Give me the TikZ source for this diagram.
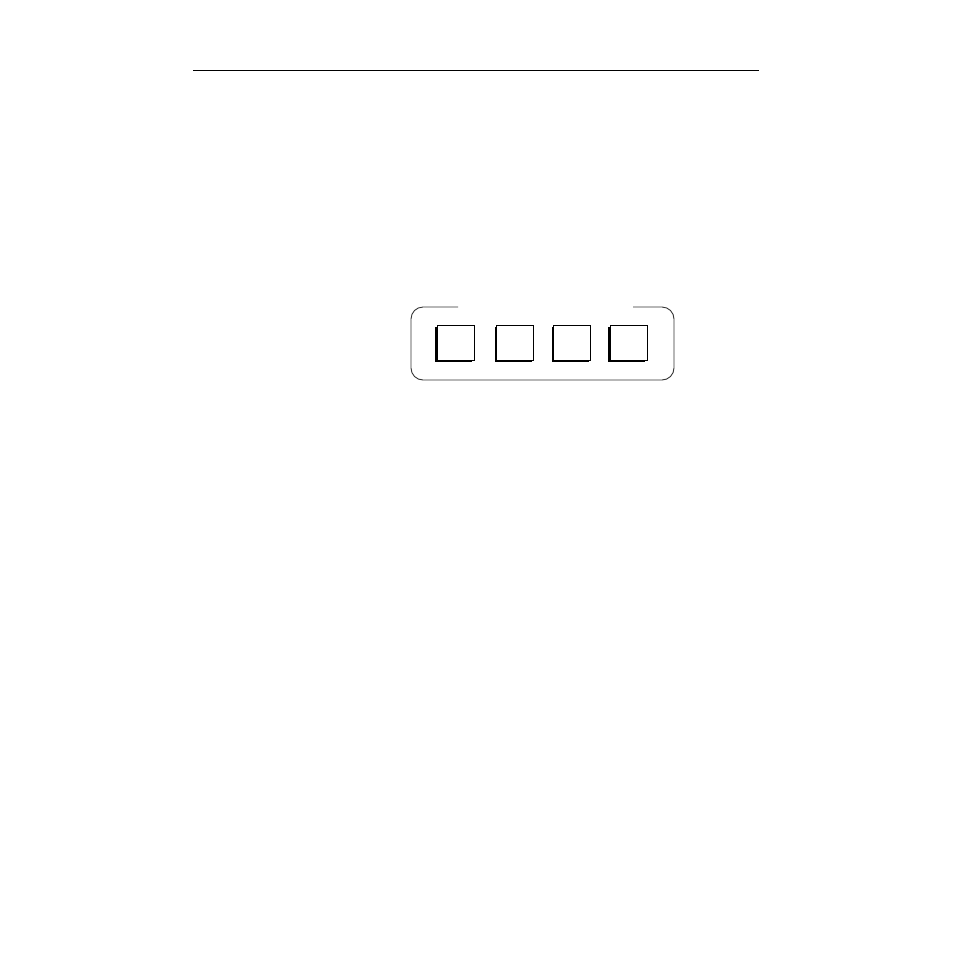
\documentclass[tikz,border=0pt]{standalone}
\begin{document}
\begin{tikzpicture}[x=1pt,y=-1pt,
  keybox/.style={draw=black,fill=white,line width=0.9pt,minimum width=37pt,minimum height=35pt,inner sep=0pt,
    path picture={}},
  keyshadow/.style={fill=black,draw=none,minimum width=37pt,minimum height=35pt,inner sep=0pt}]
\useasboundingbox (0,0) rectangle (954,954);
\draw[line width=1pt] (193,70) -- (759,70);
\draw[line width=0.9pt,draw=black!80,rounded corners=12pt]
  (458,307) -- (411,307) -- (411,380) -- (674,380) -- (674,307) -- (633,307);
\foreach \i/\x in {1/455.5,2/515,3/572,4/628.5}{
  \node[keyshadow] (sh\i) at (\x-2,344.5) {};
  \node[keybox] (s\i) at (\x,342.5) {};
}
\end{tikzpicture}
\end{document}
